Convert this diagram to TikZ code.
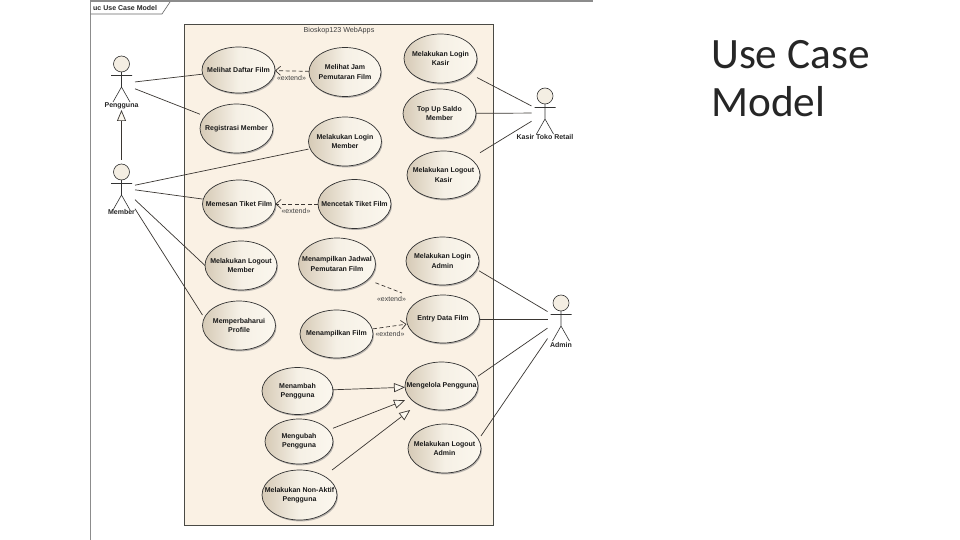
\documentclass[tikz,border=0pt]{standalone}
\usepackage{fontspec}
\setmainfont{Liberation Sans}
\newfontfamily\titlefont{Carlito}
\usetikzlibrary{arrows.meta}
\definecolor{lineink}{HTML}{3A3632}
\definecolor{framegray}{HTML}{8C8C8C}
\definecolor{sysfill}{HTML}{FAF1E4}
\definecolor{sysedge}{HTML}{4A4A45}
\definecolor{ucdark}{HTML}{D6CAB6}
\definecolor{uclight}{HTML}{FBF7EE}
\tikzset{
  ucbox/.style={rectangle,inner sep=0pt,outer sep=0pt,align=center,font=\fontsize{7}{9.2}\selectfont\bfseries,text=black!90},
  actorbox/.style={rectangle,inner sep=0pt,outer sep=0pt},
  actorlabel/.style={inner sep=0pt,font=\fontsize{7}{8}\selectfont\bfseries,text=black!85},
  stick/.style={draw=black!80,line width=0.6pt},
  assoc/.style={draw=lineink,line width=0.7pt},
  gen/.style={draw=lineink,line width=0.7pt,-{Triangle[open,length=11pt,width=9pt,fill=uclight]}},
  extendline/.style={draw=lineink,line width=0.7pt,dash pattern=on 4pt off 2.5pt},
  extendarrow/.style={extendline,-{Straight Barb[length=5pt,width=9pt,line width=0.7pt]}},
  extendlabel/.style={inner sep=0pt,font=\fontsize{7}{8}\selectfont,text=black!75},
}
\newcommand{\ucase}[6]{%
  \fill[black!50,opacity=0.55] (#2+1,#3+1.4) ellipse [x radius=#4pt,y radius=#5pt];
  \path[draw=black!80,line width=0.7pt,left color=ucdark,right color=uclight,middle color=uclight!85!ucdark] (#2,#3) ellipse [x radius=#4pt,y radius=#5pt];
  \node[ucbox,minimum width=2*#4pt,minimum height=2*#5pt] (#1) at (#2,#3) {#6};
}
% name, x, head y, box centre y, box half height, label y, label
\newcommand{\ucactor}[7]{%
  \path[stick,fill=uclight!80!ucdark] (#2,#3) circle [radius=8pt];
  \path[stick] (#2,#3+8) -- (#2,#3+23) -- (#2-8.5,#3+38) (#2,#3+23) -- (#2+8.5,#3+38) (#2-10.5,#3+11.5) -- (#2+10.5,#3+11.5);
  \node[actorbox,minimum width=27pt,minimum height=2*#5pt] (#1) at (#2,#4) {};
  \node[actorlabel] (#1Label) at (#2,#6) {#7};
}
\begin{document}
\begin{tikzpicture}[x=1pt,y=-1pt]
\useasboundingbox (0,0) rectangle (960,540);
\fill[white] (0,0) rectangle (960,540);
% frame
\draw[framegray,line width=1.8pt] (90.5,540) -- (90.5,1) -- (593,1);
\draw[black!60,line width=0.6pt] (90.5,14) -- (162,14) -- (170,2);
\node[anchor=west,inner sep=0pt,font=\fontsize{7}{8}\selectfont\bfseries,text=black!85] (tag) at (93,7.8) {uc Use Case Model};
% system
\path[fill=sysfill,draw=sysedge,line width=0.9pt] (184,24) rectangle (493,525);
\node[inner sep=0pt,font=\fontsize{7.2}{8}\selectfont,text=black!75] (sysname) at (339,31) {Bioskop123 WebApps};
\node[anchor=north west,inner sep=0pt,align=left,font=\fontsize{43.3}{47.5}\titlefont,text=black!85] (title) at (711,40.5) {Use Case\\Model};
% use cases
\ucase{daftar}{238.5}{70}{36.5}{23}{Melihat Daftar Film}
\ucase{jam}{345}{72}{36}{24.5}{Melihat Jam\\Pemutaran Film}
\ucase{registrasi}{236.5}{128.5}{36.5}{24.5}{Registrasi Member}
\ucase{loginmember}{345}{141.5}{36.5}{24.5}{Melakukan Login\\Member}
\ucase{memesan}{239}{204}{36.5}{24}{Memesan Tiket Film}
\ucase{mencetak}{354.5}{204}{36.5}{24.5}{Mencetak Tiket Film}
\ucase{logoutmember}{241}{265.5}{36}{24.5}{Melakukan Logout\\Member}
\ucase{profile}{239}{325.5}{36.5}{24.5}{Memperbaharui\\Profile}
\ucase{jadwal}{337}{264}{38.5}{26}{Menampilkan Jadwal\\Pemutaran Film}
\ucase{film}{336.5}{334}{36.5}{24}{Menampilkan Film}
\ucase{loginkasir}{440.5}{58.5}{36.5}{24.5}{Melakukan Login\\Kasir}
\ucase{topup}{439.5}{113.5}{36.5}{24.5}{Top Up Saldo\\Member}
\ucase{logoutkasir}{443.5}{175}{36.5}{24}{Melakukan Logout\\Kasir}
\ucase{loginadmin}{442.5}{261}{36.5}{24}{Melakukan Login\\Admin}
\ucase{entry}{443}{319}{36.5}{24}{Entry Data Film}
\ucase{mengelola}{441.5}{386}{36.5}{24}{Mengelola Pengguna}
\ucase{logoutadmin}{444.5}{448.5}{36.5}{24.5}{Melakukan Logout\\Admin}
\ucase{menambah}{297.5}{391}{35.5}{23.5}{Menambah\\Pengguna}
\ucase{mengubah}{299}{441.5}{34}{22.5}{Mengubah\\Pengguna}
\ucase{nonaktif}{299.5}{495}{37.5}{25}{Melakukan Non-Aktif\\Pengguna}
% actors
\ucactor{pengguna}{121.5}{64}{83.5}{26.5}{106}{Pengguna}
\ucactor{member}{121.5}{172}{188}{28}{212}{Member}
\ucactor{kasir}{545}{96}{113}{25}{137}{Kasir Toko Retail}
\ucactor{admin}{561}{303}{320}{30}{344.5}{Admin}
\coordinate (jadwalEnd) at (402,293);
% connectors
\draw[assoc] (pengguna) -- (daftar);
\draw[assoc] (pengguna) -- (registrasi);
\draw[gen] (member) -- (pengguna);
\draw[assoc] (member) -- (loginmember);
\draw[assoc] (member) -- (memesan);
\draw[assoc] (member.-41.6) -- (logoutmember.west);
\draw[assoc] (member.-57.3) -- (profile.164.7);
\draw[assoc] (kasir) -- (loginkasir);
\draw[assoc] (kasir) -- (topup);
\draw[assoc] (kasir) -- (logoutkasir);
\draw[assoc] (admin.148.4) -- (loginadmin.-15);
\draw[assoc] (admin.west|-entry) -- (entry.east);
\draw[assoc] (admin.211.6) -- (mengelola.15);
\draw[assoc] (admin.234) -- (logoutadmin.19.6);
\draw[extendarrow] (jam) -- (daftar);
\draw[extendarrow] (mencetak) -- (memesan);
\draw[extendarrow] (film) -- (entry);
\draw[extendline] (jadwal.-26) -- (jadwalEnd);
\draw[gen] (menambah) -- (mengelola);
\draw[gen] (mengubah) -- (mengelola);
\draw[gen] (nonaktif) -- (mengelola);
% stereotype labels
\node[extendlabel] (ext1) at (291.5,77.5) {«extend»};
\node[extendlabel] (ext2) at (296,210.5) {«extend»};
\node[extendlabel] (ext3) at (391.5,298.5) {«extend»};
\node[extendlabel] (ext4) at (390,334) {«extend»};
\end{tikzpicture}
\end{document}
